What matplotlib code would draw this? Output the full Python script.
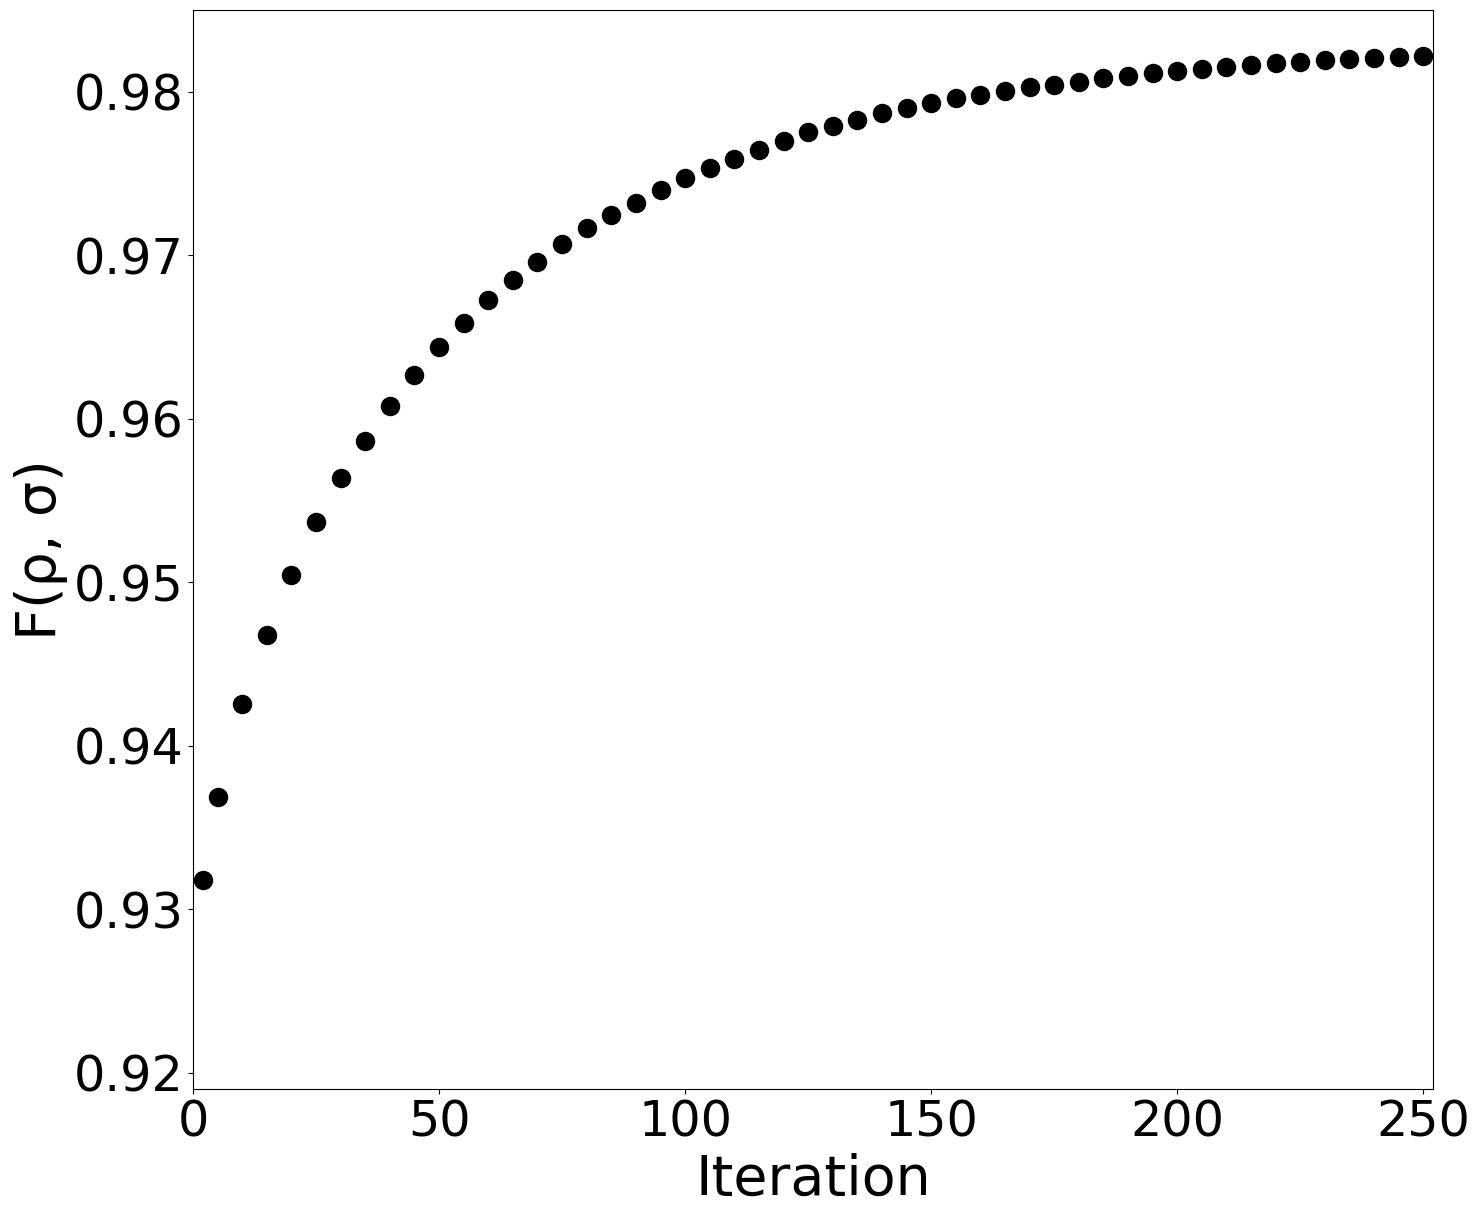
import matplotlib
matplotlib.use("Agg")
import matplotlib.pyplot as plt

iterations = [2, 5] + list(range(10, 251, 5))
fidelity = [
    0.93180, 0.93688, 0.94256, 0.94678, 0.95044, 0.95368, 0.95637, 0.95863,
    0.96077, 0.96266, 0.96437, 0.96584, 0.96724, 0.96847, 0.96957, 0.97066,
    0.97164, 0.97244, 0.97317, 0.97396, 0.97470, 0.97531, 0.97586, 0.97641,
    0.97696, 0.97751, 0.97793, 0.97830, 0.97867, 0.97903, 0.97934, 0.97964,
    0.97983, 0.98007, 0.98026, 0.98044, 0.98062, 0.98081, 0.98099, 0.98117,
    0.98129, 0.98142, 0.98154, 0.98166, 0.98178, 0.98184, 0.98197, 0.98203,
    0.98209, 0.98215, 0.98221,
]
xticks = [0, 50, 100, 150, 200, 250]
yticks = [0.92, 0.93, 0.94, 0.95, 0.96, 0.97, 0.98]

fig = plt.figure(figsize=(14.78, 12.19), dpi=100)
ax = fig.add_axes([0.1306, 0.1066, 0.8390, 0.8852])
ax.plot(iterations, fidelity, 'o', color='black', markersize=13)
ax.set_xlim(0, 252)
ax.set_ylim(0.919, 0.985)
ax.set_xticks(xticks)
ax.set_yticks(yticks)
ax.set_yticklabels([f"{v:.2f}" for v in yticks])
ax.tick_params(labelsize=35.5)
ax.set_xlabel("Iteration", fontsize=40)
ax.set_ylabel("F(ρ, σ)", fontsize=40)
fig.savefig("out.png", dpi=100)
